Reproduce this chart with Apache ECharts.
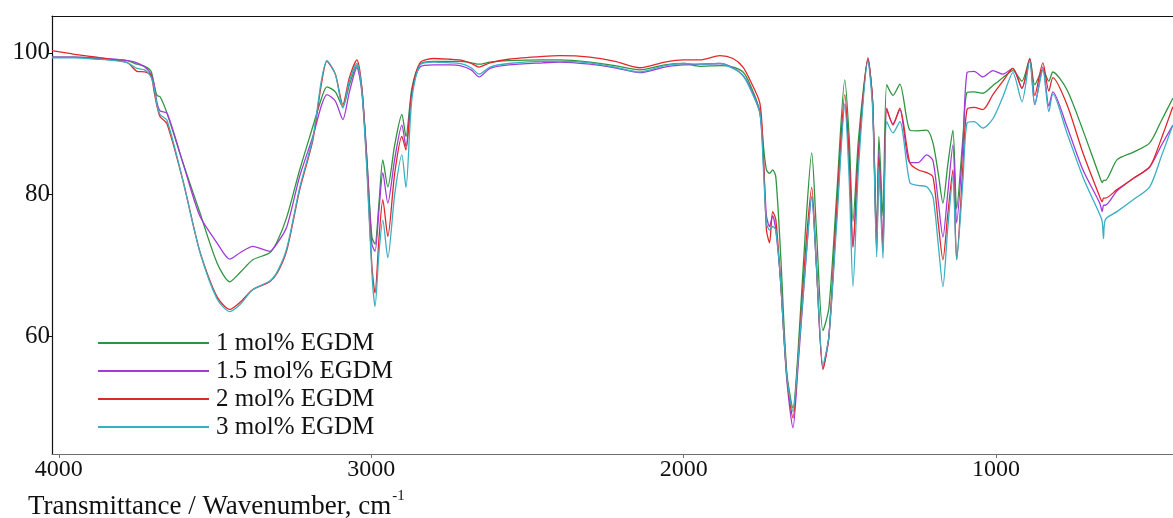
<!DOCTYPE html>
<html>
<head>
<meta charset="utf-8">
<script src="https://cdn.jsdelivr.net/npm/echarts@6/dist/echarts.min.js"></script>
<style>
  html, body { margin: 0; padding: 0; background: #fff; }
  #chart { width: 1173px; height: 518px; }
</style>
</head>
<body>
<div id="chart"></div>
<script>
// FTIR spectra of hydrogels crosslinked with different EGDM contents
const wavenumbers = [4022,3950,3880,3820,3780,3750,3725,3705,3695,3686,3676,3654,3603,3549,3494,3453,3420,3379,3325,3300,3270,3229,3187,3160,3142,3115,3091,3070,3046,3030,3014,2998,2988,2975,2963,2947,2925,2902,2889,2870,2844,2800,2748,2716,2680,2655,2620,2560,2450,2396,2300,2220,2140,2060,2000,1948,1884,1842,1810,1788,1756,1745,1735,1725,1715,1705,1690,1670,1650,1635,1610,1590,1575,1554,1535,1510,1484,1470,1458,1440,1410,1395,1382,1375,1362,1350,1330,1308,1276,1250,1222,1202,1185,1170,1155,1138,1126,1106,1093,1070,1042,1010,978,946,917,892,876,850,831,818,773,722,668,660,656,650,613,560,508,470,434];

const egdm1 = [99.4,99.4,99.2,99.0,98.9,98.4,98.1,97.4,95.5,94.0,93.8,91.5,84.5,77.5,70.4,67.7,69.0,70.8,71.8,73.5,76.9,83.5,89.6,93.5,95.2,94.5,92.4,95.5,98.2,95.0,85.0,74.0,73.0,79.0,84.9,81.1,87.0,91.3,88.2,95.0,98.4,98.8,98.8,98.8,98.6,98.4,98.7,98.9,99.0,99.0,98.7,98.2,97.6,98.3,98.5,98.1,98.2,98.0,97.3,95.6,91.8,87.0,83.5,83.0,83.5,82.5,72.0,55.0,49.9,57.0,75.0,85.9,75.0,60.8,64.0,80.0,96.2,88.0,76.2,88.0,99.1,93.0,74.0,88.2,77.0,95.5,94.0,95.6,89.1,89.0,89.1,87.3,83.0,78.8,84.0,89.1,78.0,88.0,94.4,94.5,94.3,95.4,96.5,97.5,96.0,99.1,95.5,97.6,96.0,97.3,94.8,89.1,82.5,81.7,82.0,82.0,84.9,86.0,87.3,90.5,93.6];

const egdm15 = [99.4,99.4,99.3,99.1,98.9,98.6,98.0,97.0,95.5,93.0,91.8,91.5,84.5,77.0,73.2,70.9,71.8,72.7,72.0,73.2,75.5,82.6,88.2,92.5,94.1,93.2,90.6,94.5,97.9,94.5,85.0,73.0,72.0,78.0,83.1,78.8,85.0,89.8,86.8,94.5,98.0,98.3,98.3,98.2,97.6,96.6,97.8,98.3,98.6,98.7,98.4,97.9,97.2,98.0,98.3,98.4,98.5,97.9,96.8,95.2,91.5,85.0,77.0,75.5,77.0,75.0,68.0,54.0,47.1,55.0,70.0,79.7,70.0,55.5,60.0,77.0,92.8,85.0,72.6,86.0,99.0,93.0,73.0,86.0,73.0,92.0,90.0,92.0,84.5,84.5,85.6,84.8,79.0,74.0,80.0,87.0,76.0,87.0,97.2,97.4,96.6,97.5,97.0,97.8,95.0,99.0,92.7,98.0,92.5,94.5,89.6,83.5,78.8,77.6,78.5,78.5,80.5,82.3,83.9,87.0,89.8];

const egdm2 = [100.3,99.8,99.4,99.0,98.6,97.4,97.3,96.8,94.5,92.5,91.0,90.0,82.0,72.0,65.6,63.8,64.8,66.6,67.7,69.0,72.2,80.7,87.7,95.5,98.8,97.0,92.7,96.5,99.0,95.0,84.0,70.0,66.1,74.0,79.3,74.1,83.0,88.2,86.3,94.5,98.6,99.2,99.1,99.0,98.5,98.0,98.6,99.1,99.5,99.6,99.4,98.8,97.9,98.7,99.0,99.0,99.6,99.2,98.0,96.2,92.9,86.0,75.0,73.2,77.6,76.5,68.0,54.5,48.5,56.0,72.0,81.0,70.0,55.3,60.0,78.0,94.1,85.0,72.6,86.0,99.3,93.0,72.0,85.2,72.0,92.2,89.8,92.2,84.5,83.5,83.1,82.5,76.0,70.8,77.0,83.5,70.8,84.0,92.0,92.3,92.0,94.1,96.0,97.8,95.0,99.2,94.0,98.6,94.6,96.5,92.7,85.9,79.7,79.0,79.5,79.5,80.7,82.3,83.9,88.0,92.4];

const egdm3 = [99.3,99.3,99.1,98.9,98.6,97.8,97.6,96.6,95.0,92.7,91.3,90.5,82.0,72.0,65.3,63.5,64.5,66.6,67.8,69.2,72.5,81.0,88.0,96.0,98.9,97.0,92.2,96.0,98.5,94.5,83.5,69.0,64.2,72.0,76.4,71.1,80.0,85.6,81.0,93.5,98.3,98.7,98.6,98.5,97.9,97.0,98.0,98.5,98.8,98.8,98.6,98.0,97.3,98.2,98.5,98.4,98.5,97.8,96.8,95.0,91.5,84.0,76.0,75.0,75.5,75.0,68.0,54.5,49.4,56.0,70.0,79.7,70.0,56.0,60.0,76.0,92.4,82.0,67.0,84.0,98.8,92.0,71.2,84.0,71.0,90.3,88.7,90.3,81.7,81.3,81.1,79.7,73.0,67.0,75.0,82.5,70.8,82.0,90.1,90.3,89.4,90.7,93.8,97.2,93.1,98.9,92.7,97.6,91.7,94.2,88.7,82.5,77.2,76.2,73.8,76.5,77.6,79.3,81.1,85.5,89.8];

const seriesNames = ['1 mol% EGDM', '1.5 mol% EGDM', '2 mol% EGDM', '3 mol% EGDM'];
const seriesColors = ['#2f9440', '#a33ad8', '#e0282c', '#38afc2'];
const seriesValues = [egdm1, egdm15, egdm2, egdm3];

const xTicks = [4000, 3000, 2000, 1000];
const yTicks = [60, 80, 100];

const serif = '"Liberation Serif", "Times New Roman", serif';

const chart = echarts.init(document.getElementById('chart'), null, { renderer: 'canvas' });

const series = seriesNames.map((name, k) => ({
  name: name,
  type: 'line',
  xAxisIndex: 0,
  yAxisIndex: 0,
  showSymbol: false,
  symbol: 'none',
  smooth: 0.25,
  lineStyle: { color: seriesColors[k], width: 1.3 },
  itemStyle: { color: seriesColors[k] },
  data: wavenumbers.map((w, i) => [w, seriesValues[k][i]])
}));

chart.setOption({
  animation: false,
  backgroundColor: '#ffffff',
  grid: { left: 52, top: 16, right: 0, bottom: 64, containLabel: false },
  xAxis: [
    {
      type: 'value',
      min: 433.5,
      max: 4022,
      inverse: true,
      position: 'bottom',
      axisLine: { show: true, onZero: false, lineStyle: { color: '#6e6e6e', width: 1.2 } },
      axisTick: { show: true, length: 4, customValues: xTicks, lineStyle: { color: '#6e6e6e' } },
      axisLabel: {
        show: true, customValues: xTicks, margin: 4, color: '#111',
        fontFamily: serif, fontSize: 24, formatter: v => String(v)
      },
      splitLine: { show: false }
    },
    {
      type: 'value',
      min: 433.5,
      max: 4022,
      inverse: true,
      position: 'top',
      axisLine: { show: true, onZero: false, lineStyle: { color: '#111', width: 1.2 } },
      axisTick: { show: false },
      axisLabel: { show: false },
      splitLine: { show: false }
    }
  ],
  yAxis: {
    type: 'value',
    min: 43.4,
    max: 105.2,
    position: 'left',
    axisLine: { show: true, onZero: false, lineStyle: { color: '#111', width: 1.2 } },
    axisTick: { show: true, length: 5, customValues: yTicks, lineStyle: { color: '#111' } },
    axisLabel: {
      show: true, customValues: yTicks, margin: 2, color: '#111',
      fontFamily: serif, fontSize: 25, formatter: v => String(v)
    },
    splitLine: { show: false }
  },
  legend: {
    orient: 'vertical',
    left: 98,
    top: 329,
    padding: 0,
    itemWidth: 111,
    itemHeight: 2,
    itemGap: 0,
    icon: 'rect',
    data: seriesNames,
    textStyle: { color: '#111', fontFamily: serif, fontSize: 25, lineHeight: 16, padding: [0, 0, 12, 2] }
  },
  graphic: [
    {
      type: 'text',
      left: 28,
      top: 489,
      style: {
        text: '{a|Transmittance / Wavenumber, cm}{s|-1}',
        rich: {
          a: { fontFamily: serif, fontSize: 27, fill: '#111', verticalAlign: 'bottom' },
          s: { fontFamily: serif, fontSize: 15, fill: '#111', verticalAlign: 'top', padding: [0, 0, 16, 1] }
        }
      }
    }
  ],
  series: series
});
</script>
</body>
</html>
